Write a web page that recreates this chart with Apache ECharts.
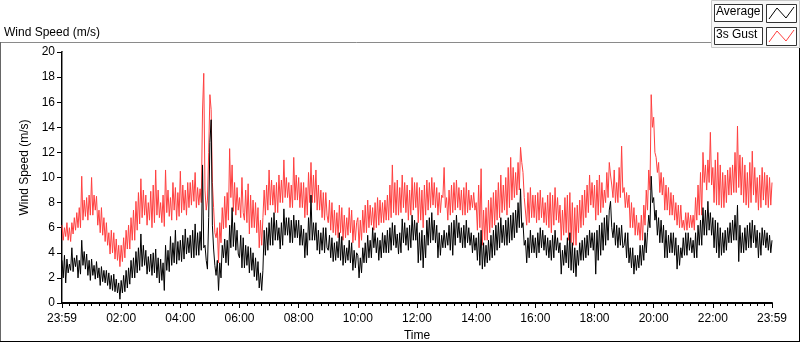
<!DOCTYPE html>
<html>
<head>
<meta charset="UTF-8">
<title>Wind Speed (m/s)</title>
<script src="https://cdn.jsdelivr.net/npm/echarts@6/dist/echarts.min.js"></script>
<style>
  html, body { margin: 0; padding: 0; background: #fff; }
  #chart { width: 800px; height: 342px; }
</style>
</head>
<body>
<div id="chart"></div>
<script>
// one sample every 2.5 minutes, from 23:59 to 23:59 next day (one row = one hour)
var stepMinutes = 2.5;
var timeLabels = ['23:59', '02:00', '04:00', '06:00', '08:00', '10:00', '12:00',
                  '14:00', '16:00', '18:00', '20:00', '22:00', '23:59'];

// Average wind speed (m/s)
var avgSpeed = [
  3.4,2.0,3.8,1.6,3.5,2.4,3.1,2.6,4.4,2.5,3.6,2.9,3.8,2.0,3.4,2.3,5.0,3.0,4.1,2.7,3.9,2.2,3.4,1.8,
  3.5,2.2,3.0,1.9,3.3,2.0,2.8,1.4,2.9,1.7,2.6,1.6,2.6,1.4,2.4,1.1,2.2,1.0,2.3,0.9,1.9,0.8,1.6,0.3,
  1.8,0.8,2.2,0.9,2.6,1.2,2.8,1.5,3.4,2.0,3.6,2.0,4.1,2.4,4.4,2.6,5.5,2.9,4.6,3.0,4.2,2.3,3.7,2.5,
  3.9,2.2,4.0,2.4,4.3,2.0,3.6,1.6,3.5,1.8,3.2,1.0,4.6,2.6,4.2,2.5,5.3,3.0,4.8,3.2,5.8,3.1,4.9,3.4,
  5.0,3.3,5.4,3.5,5.9,3.9,5.2,4.0,5.4,3.6,5.8,3.6,6.3,3.8,5.6,3.8,5.7,4.2,11.0,4.4,4.6,3.4,2.7,6.8,
  12.8,14.6,6.2,4.3,3.0,2.2,3.4,1.0,3.2,2.0,4.6,3.6,5.1,3.2,5.0,3.0,6.2,4.4,7.6,4.5,6.4,4.2,5.8,3.9,
  3.6,5.4,2.8,5.2,2.8,4.6,3.0,4.5,2.4,4.4,2.6,4.0,2.1,3.6,1.8,3.3,1.2,2.4,1.0,2.6,5.8,3.8,6.0,4.2,
  6.4,4.6,6.8,4.6,7.2,5.0,6.6,5.0,6.0,4.3,6.4,4.6,7.5,5.4,6.8,5.4,6.8,4.8,6.6,4.8,7.0,5.2,6.6,5.2,
  6.6,4.6,6.2,4.6,5.9,3.6,5.6,3.8,6.8,5.0,8.6,5.0,6.4,5.0,6.4,4.2,5.8,3.9,5.6,4.2,6.0,4.0,6.0,4.4,
  4.2,5.4,3.6,5.2,3.3,4.8,3.4,4.9,3.6,5.6,3.4,5.3,3.0,4.6,3.2,4.4,3.4,5.0,3.2,4.8,2.6,4.2,2.8,4.0,
  3.8,2.0,3.6,2.4,4.4,3.2,4.8,3.2,5.4,3.6,5.0,3.6,6.0,4.4,5.6,4.0,5.2,3.4,5.0,3.6,5.6,4.0,5.4,4.0,
  5.8,4.0,6.0,4.2,6.4,4.6,6.2,4.4,5.5,3.9,5.6,4.0,6.7,4.8,6.4,4.6,6.0,4.2,6.2,4.4,7.0,5.0,6.6,5.0,
  6.4,3.2,5.6,3.4,5.8,2.8,5.4,3.6,6.6,4.6,6.8,4.8,7.2,5.0,6.6,4.8,6.2,3.6,5.6,3.8,5.4,4.4,5.8,4.4,
  5.6,4.6,6.2,4.2,6.4,3.8,6.6,4.6,7.0,5.2,6.4,4.8,6.0,4.4,6.2,4.4,6.6,4.8,6.0,4.6,5.6,4.0,5.4,4.2,
  5.2,3.4,5.6,3.0,5.8,2.7,4.8,2.9,4.6,3.2,5.0,3.4,5.4,3.6,5.8,3.8,6.2,4.2,6.4,4.4,6.8,4.8,6.2,4.6,
  6.6,4.6,6.8,4.8,7.0,5.0,7.2,5.2,7.4,5.6,8.0,6.0,9.1,6.0,6.4,4.6,5.0,3.2,5.2,3.6,5.8,4.0,5.4,4.0,
  5.2,3.6,5.6,4.0,6.0,4.4,5.8,4.2,5.4,3.8,5.2,3.6,5.0,3.4,5.4,3.6,5.8,4.2,5.2,4.0,4.8,2.3,4.2,3.0,
  4.6,3.2,5.2,2.8,5.6,2.6,4.8,2.4,4.4,2.1,4.2,3.0,4.8,3.4,5.0,3.4,5.2,3.6,5.4,3.8,5.8,4.4,5.6,4.2,
  5.6,2.3,5.8,3.4,6.2,3.8,6.4,4.2,6.8,4.6,7.0,5.0,7.4,8.1,6.0,5.2,6.4,4.6,6.2,4.4,6.0,4.6,6.2,4.4,
  4.6,5.6,3.6,5.6,3.2,4.4,2.8,4.4,2.3,3.8,2.6,3.8,2.8,4.6,3.0,4.6,3.4,5.6,4.0,5.6,7.0,6.0,10.1,8.0,
  8.4,6.6,7.4,5.4,6.8,4.8,6.6,4.8,6.2,3.6,5.8,3.6,5.4,4.0,5.6,4.0,5.6,3.8,5.2,2.7,4.6,3.0,4.4,3.6,
  5.2,3.8,5.6,3.8,5.6,4.2,5.2,4.0,5.0,3.6,5.6,3.6,6.2,4.6,6.6,4.6,7.6,5.4,7.4,5.4,8.1,5.8,7.2,5.4,
  6.8,4.4,6.6,4.0,6.4,3.6,6.0,3.8,5.6,4.0,5.8,4.2,6.0,4.8,6.4,4.8,6.6,5.0,7.0,5.0,7.8,3.3,6.2,4.0,
  5.6,4.0,6.0,4.2,6.2,4.4,6.4,4.4,6.6,4.8,6.2,4.4,5.8,3.6,5.6,3.8,6.0,4.6,5.8,4.4,5.6,4.2,5.4,4.0,
  5.0
];

// 3 second gust (m/s)
var gustSpeed = [
  6.2,5.0,6.0,5.3,6.4,5.0,6.0,4.9,6.4,5.5,6.8,5.8,7.2,6.0,7.6,6.0,10.1,6.6,8.2,6.9,8.4,6.6,8.6,7.0,
  10.0,7.0,8.6,7.4,8.5,6.2,7.4,5.6,7.6,5.4,6.8,4.9,6.4,4.6,5.6,3.9,5.8,4.0,5.6,3.5,5.1,3.4,4.6,2.9,
  4.6,3.3,5.2,3.6,5.8,4.3,6.2,4.3,6.8,5.0,7.4,5.0,8.1,5.8,8.8,6.3,9.9,6.8,9.0,7.0,8.6,6.2,8.0,6.6,
  8.9,6.0,9.4,6.4,10.6,7.0,9.0,6.8,8.0,6.4,8.6,6.1,10.6,7.2,9.0,6.9,8.4,6.6,9.6,7.4,9.2,6.6,8.8,6.9,
  10.5,7.2,9.4,7.4,9.0,7.0,9.6,7.6,9.6,7.8,9.8,8.1,10.4,7.6,9.2,7.8,9.1,8.0,15.3,18.3,9.0,7.4,8.2,12.0,
  16.6,15.4,9.6,7.6,5.6,5.2,6.0,3.2,6.4,4.8,7.6,5.9,8.5,6.0,8.8,6.6,12.3,8.4,11.0,7.3,9.6,7.0,9.2,7.4,
  8.4,6.8,10.0,7.2,6.6,9.0,6.4,9.5,5.5,8.6,6.0,8.2,6.0,8.0,5.6,7.6,4.4,6.6,4.6,6.8,9.0,7.0,9.4,7.4,
  10.6,7.8,9.8,7.8,9.4,7.2,9.6,7.2,10.2,8.0,9.8,8.0,11.4,8.4,10.0,8.4,9.6,7.6,9.4,7.6,11.6,8.2,10.2,8.2,
  10.0,7.6,9.6,7.6,9.6,6.8,9.2,7.0,10.4,8.0,11.2,8.0,10.2,8.0,10.6,7.4,9.4,7.4,9.0,6.8,8.8,6.6,8.8,7.0,
  6.4,8.2,5.8,8.0,5.6,7.4,5.4,7.2,5.2,7.8,5.6,7.6,5.0,7.0,5.2,6.8,5.4,7.6,5.6,7.4,4.8,6.6,5.0,6.4,
  6.8,4.4,6.6,5.0,7.4,5.6,7.8,5.6,8.2,6.0,7.8,6.2,7.6,5.8,8.0,6.0,8.4,6.2,8.2,6.4,8.0,6.4,8.2,6.6,
  8.6,6.6,9.4,6.8,11.0,7.2,9.6,7.0,9.8,7.0,9.2,7.2,10.2,7.6,9.6,7.2,9.4,6.6,9.0,7.0,10.0,7.4,9.6,7.6,
  9.6,6.4,9.2,6.6,9.0,6.0,9.4,7.0,9.8,7.4,9.6,7.6,10.0,7.8,9.6,7.6,9.2,7.0,8.8,7.2,8.6,8.4,10.8,7.6,
  8.4,6.6,9.0,7.0,9.4,7.2,9.6,7.4,9.8,7.6,9.2,7.4,9.0,7.0,9.2,7.0,9.6,7.2,9.0,7.4,8.6,7.6,8.8,7.4,
  8.0,5.8,9.4,6.0,10.7,4.6,7.4,5.0,7.6,5.0,8.2,5.6,8.4,6.0,8.8,6.2,9.0,6.6,9.6,6.8,10.2,7.2,9.4,7.4,
  10.0,7.0,10.8,7.6,11.6,8.2,10.8,8.4,10.4,8.6,11.2,9.0,12.4,11.2,10.4,8.4,8.4,6.2,8.8,6.4,9.2,6.8,8.6,6.8,
  8.6,6.4,8.8,6.6,9.0,6.8,8.4,6.4,8.0,6.2,8.6,6.0,8.8,5.6,8.6,6.2,9.2,6.6,8.4,6.4,7.8,5.0,7.4,5.4,
  8.4,5.6,8.6,5.0,8.8,4.8,8.0,4.6,7.6,4.6,7.8,5.6,8.2,6.0,8.6,6.2,9.0,6.8,9.4,7.2,10.2,7.8,9.6,7.6,
  9.4,6.6,9.8,7.0,10.2,7.2,9.6,7.6,9.0,8.0,10.4,8.4,11.2,10.2,9.4,8.4,10.6,8.0,9.6,8.0,10.8,8.4,12.5,8.8,
  9.2,7.6,8.8,7.6,8.6,6.0,8.0,6.0,7.6,5.4,7.0,5.4,6.4,5.0,7.0,5.0,7.8,6.2,9.0,7.4,10.6,9.0,16.6,14.0,
  14.8,12.0,11.6,10.4,11.2,8.8,10.4,8.6,10.0,7.4,9.4,7.4,9.2,7.0,8.8,7.0,8.6,6.6,8.0,6.2,7.8,6.0,7.8,6.0,
  6.6,5.8,7.2,5.8,7.2,6.0,7.0,6.0,7.0,5.8,8.4,6.6,9.4,7.0,10.4,7.0,12.0,9.6,11.0,9.0,11.4,9.6,13.6,9.4,
  10.8,8.0,11.4,7.8,12.0,7.8,11.0,7.6,10.4,7.6,10.2,8.0,10.6,8.6,10.8,8.6,11.0,8.8,12.0,8.8,14.1,9.2,11.8,8.6,
  11.6,8.0,11.0,7.8,10.4,7.6,11.2,8.0,12.1,8.6,10.8,8.0,10.0,7.4,10.2,7.6,10.8,8.2,10.4,7.8,10.2,7.6,10.0,7.8,
  9.6
];

var chart = echarts.init(document.getElementById('chart'));
var font = 'Liberation Sans, Arial, sans-serif';

function pairs(values) {
  return values.map(function (v, i) { return [i * stepMinutes, v]; });
}

var xMax = (timeLabels.length - 1) * 120;

var option = {
  animation: false,
  backgroundColor: '#fff',
  textStyle: { fontFamily: font },
  grid: { left: 62, top: 52, right: 28, bottom: 39, containLabel: false, outerBoundsMode: 'none' },
  xAxis: [{
    type: 'value',
    min: 0,
    max: xMax,
    interval: 120,
    name: 'Time',
    nameLocation: 'middle',
    nameGap: 27,
    nameTextStyle: { fontSize: 12, color: '#000', fontFamily: font },
    axisLine: { show: true, lineStyle: { color: '#8a8a8a', width: 1 } },
    axisTick: { show: true, length: 5, lineStyle: { color: '#000' } },
    minorTick: { show: true, splitNumber: 8, length: 3, lineStyle: { color: '#000' } },
    axisLabel: {
      fontSize: 12, color: '#000', fontFamily: font, margin: 10,
      formatter: function (v) { return timeLabels[Math.round(v / 120)]; }
    },
    splitLine: { show: false }
  }, {
    type: 'value', position: 'top', min: 0, max: xMax,
    axisLine: { show: true, lineStyle: { color: '#000', width: 2 } },
    axisTick: { show: false }, axisLabel: { show: false }, splitLine: { show: false }
  }],
  yAxis: [{
    type: 'value',
    min: 0,
    max: 20,
    interval: 2,
    name: 'Wind Speed (m/s)',
    nameLocation: 'middle',
    nameGap: 24,
    nameTextStyle: { fontSize: 12, color: '#000', fontFamily: font, padding: [0, 0, 0, 20] },
    axisLine: { show: true, lineStyle: { color: '#000', width: 2 } },
    axisTick: { show: true, length: 5, lineStyle: { color: '#000' } },
    axisLabel: { fontSize: 12, color: '#000', fontFamily: font, margin: 7 },
    splitLine: { show: false }
  }, {
    type: 'value', position: 'right', min: 0, max: 20,
    axisLine: { show: true, lineStyle: { color: '#8a8a8a', width: 1 } },
    axisTick: { show: false }, axisLabel: { show: false }, splitLine: { show: false }
  }],
  series: [{
    name: '3s Gust',
    type: 'line',
    data: pairs(gustSpeed),
    showSymbol: false,
    symbol: 'none',
    lineStyle: { color: '#ff4040', width: 1 },
    z: 2
  }, {
    name: 'Average',
    type: 'line',
    data: pairs(avgSpeed),
    showSymbol: false,
    symbol: 'none',
    lineStyle: { color: '#000', width: 1 },
    z: 3
  }],
  graphic: [
    // outer frame
    { type: 'line', shape: { x1: 0.5, y1: 42.5, x2: 712, y2: 42.5 }, style: { stroke: '#8a8a8a', lineWidth: 1 } },
    { type: 'line', shape: { x1: 0.5, y1: 42, x2: 0.5, y2: 342 }, style: { stroke: '#666', lineWidth: 1 } },
    { type: 'line', shape: { x1: 0, y1: 341.5, x2: 800, y2: 341.5 }, style: { stroke: '#000', lineWidth: 1 } },
    { type: 'line', shape: { x1: 799.5, y1: 48, x2: 799.5, y2: 342 }, style: { stroke: '#000', lineWidth: 1 } },
    // title
    { type: 'text', left: 4, top: 27, style: { text: 'Wind Speed (m/s)', fontSize: 12, fontFamily: font, fill: '#000' } },
    // legend panel
    { type: 'rect', shape: { x: 711.5, y: 0.5, width: 88, height: 47 }, style: { fill: '#f7f7f7', stroke: '#c8c8c8', lineWidth: 1 } },
    { type: 'rect', shape: { x: 714.5, y: 4.5, width: 48, height: 17 }, style: { fill: '#fff', stroke: '#333', lineWidth: 1 } },
    { type: 'text', left: 716, top: 6, style: { text: 'Average', fontSize: 12, fontFamily: font, fill: '#000' } },
    { type: 'rect', shape: { x: 766.5, y: 4.5, width: 30, height: 18 }, style: { fill: '#fff', stroke: '#333', lineWidth: 1 } },
    { type: 'polyline', shape: { points: [[769, 19], [777, 8], [786, 18], [794, 7]] }, style: { stroke: '#000', lineWidth: 1, fill: null } },
    { type: 'rect', shape: { x: 714.5, y: 27.5, width: 48, height: 17 }, style: { fill: '#fff', stroke: '#333', lineWidth: 1 } },
    { type: 'text', left: 716, top: 29, style: { text: '3s Gust', fontSize: 12, fontFamily: font, fill: '#000' } },
    { type: 'rect', shape: { x: 766.5, y: 27.5, width: 30, height: 18 }, style: { fill: '#fff', stroke: '#333', lineWidth: 1 } },
    { type: 'polyline', shape: { points: [[769, 42], [777, 31], [786, 41], [794, 30]] }, style: { stroke: '#ff4040', lineWidth: 1, fill: null } }
  ]
};

chart.setOption(option);
</script>
</body>
</html>
